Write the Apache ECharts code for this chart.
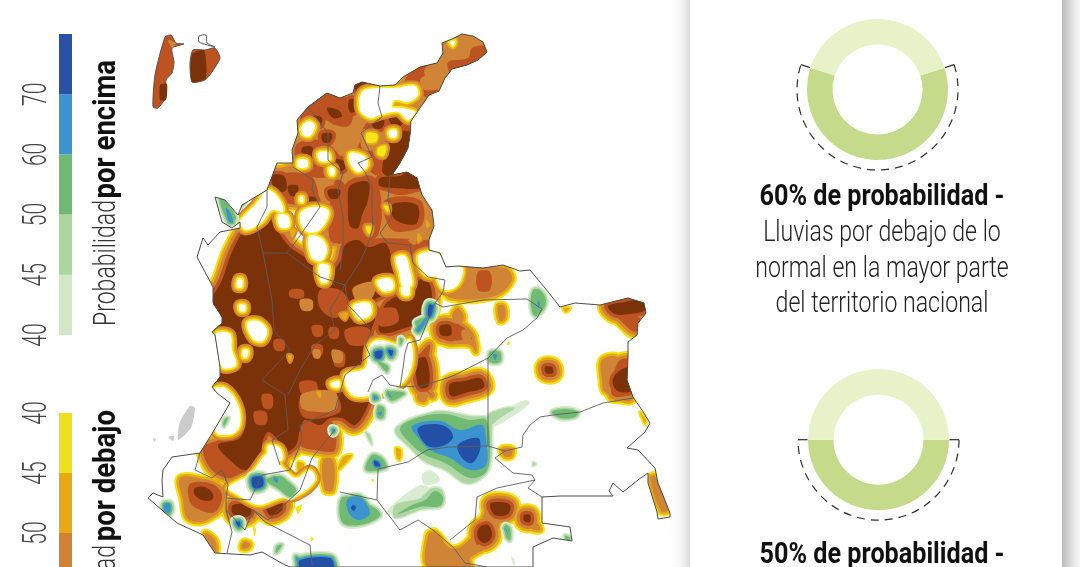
<!DOCTYPE html>
<html>
<head>
<meta charset="utf-8">
<title>Probabilidad de lluvias</title>
<script src="https://cdn.jsdelivr.net/npm/echarts@6/dist/echarts.min.js"></script>
<style>
html,body{margin:0;padding:0;background:#fff;}
#main{width:1080px;height:567px;}
</style>
</head>
<body>
<div id="main"></div>
<script>
// leyendas
var ticksEncima = ['40','45','50','60','70'];
var ticksDebajo = ['40','45','50'];
var coloresEncima = ['#d2e6c8','#acd5a0','#6fba72','#3b93cf','#2752a6'];
var coloresDebajo = ['#f0e01c','#e7aa12','#d08136'];

// donas
var probDonas = [60,50];

// contorno del pais (unidades del mapa)
var contorno = [[442,43],[452,39],[462,34],[473,36],[483,42],[487,52],[478,60],[467,65],[452,69],[445,78],[439,91],[429,95],[420,108],[411,121],[410,135],[408,148],[400,163],[392,175],[407,172],[417,178],[422,195],[432,210],[434,226],[429,240],[429,250],[440,253],[446,267],[458,266],[483,268],[503,265],[520,271],[530,270],[545,288],[560,307],[575,303],[600,305],[628,298],[644,303],[646,313],[638,323],[637,335],[628,342],[628,357],[627,380],[633,397],[642,410],[650,423],[645,432],[627,448],[638,450],[655,468],[658,483],[670,513],[670,517],[658,519],[657,512],[648,483],[648,473],[638,480],[623,492],[613,483],[609,491],[613,496],[560,496],[542,497],[542,523],[570,527],[572,541],[553,538],[533,547],[533,567],[290,567],[285,565],[262,552],[250,555],[215,553],[203,535],[177,523],[148,498],[153,493],[163,497],[162,480],[163,470],[172,457],[200,453],[213,432],[230,403],[217,393],[212,387],[220,377],[220,367],[215,335],[212,332],[222,323],[222,317],[213,303],[213,287],[197,257],[203,238],[208,245],[220,232],[240,228],[240,222],[232,228],[222,222],[215,197],[225,200],[238,215],[242,205],[267,190],[277,163],[293,163],[292,150],[298,133],[297,120],[308,107],[327,93],[340,98],[353,93],[355,85],[362,82],[380,86],[395,85],[403,77],[420,67],[437,63],[443,53]];

// limites internos
var limites = [
  [[380,86],[378,103],[382,117],[361,133],[372,157],[358,163],[365,172],[372,187],[372,213],[373,227],[367,247],[360,262],[345,285]],
  [[390,175],[388,200],[392,217],[380,233],[387,243],[410,245],[413,263],[428,277],[445,280],[443,292],[435,303],[420,340],[408,343],[405,353],[403,368],[400,387],[390,385],[382,375],[373,380],[368,392]],
  [[435,303],[443,307],[483,300],[527,299],[542,309],[537,318],[523,330],[507,338],[488,358],[455,375],[447,378],[422,386],[400,387]],
  [[488,358],[488,446]],
  [[378,469],[408,462],[427,450],[450,447],[488,446],[505,451],[522,447],[523,435],[530,425],[540,417],[553,415],[580,412],[603,403],[633,398]],
  [[505,451],[495,458],[513,473],[532,475],[535,480],[528,488],[542,497]],
  [[535,480],[497,488],[477,497],[475,520],[450,540]],
  [[378,469],[377,500],[400,530],[418,520],[433,530],[453,547],[465,563],[487,567]],
  [[340,492],[377,500]],
  [[327,93],[308,107],[328,133],[328,160],[343,173],[338,190],[343,217],[343,247],[340,270]],
  [[267,190],[267,207],[257,227],[263,253],[287,253],[297,240],[320,207],[312,190],[313,180],[293,167]],
  [[263,253],[272,300],[274,330],[290,350],[262,380],[285,395],[288,430],[272,440],[280,465]],
  [[287,253],[320,277],[345,285],[330,310],[335,330],[315,345],[300,370],[288,395]],
  [[345,285],[348,305],[372,330],[365,345],[370,355],[345,375],[335,410],[300,425],[302,440],[290,470],[262,475],[250,500],[226,498],[226,510],[245,530],[253,510],[268,520],[300,490],[312,458],[335,430]],
  [[200,453],[195,470],[212,478],[222,470],[228,485],[226,498]],
  [[226,510],[232,532],[227,553]],
  [[253,510],[265,522],[300,540],[310,545],[312,565]]
];

// lluvias por debajo: zonas por nivel (3 = 50, 4 = 60, 5 = 70)
var seco5 = [
  [[232,252],[250,222],[267,216],[277,230],[290,247],[317,266],[322,280],[340,262],[345,245],[358,240],[368,247],[385,243],[392,258],[398,272],[392,290],[372,302],[377,312],[370,335],[372,360],[372,385],[368,405],[355,425],[342,418],[330,418],[320,425],[305,420],[300,430],[296,445],[285,452],[278,440],[268,432],[262,445],[262,462],[245,470],[232,462],[218,445],[240,438],[245,420],[240,400],[218,382],[212,372],[212,330],[212,300],[222,280]],
  [[385,305],[405,292],[425,278],[432,295],[425,318],[405,328],[380,332]],
  [[393,135],[410,132],[408,148],[398,170],[388,176],[382,170]],
  [[380,178],[400,176],[408,172],[418,180],[420,188],[395,188],[380,186]],
  [[393,204],[417,205],[417,223],[405,224],[393,217]],
  [[350,186],[368,182],[368,200],[362,215],[358,228],[350,226],[348,205]],
  [[392,111],[402,113],[404,122],[396,127],[389,120]],
  [[372,121],[384,120],[382,128],[374,128]],
  [[349,100],[357,100],[358,110],[350,112]],
  [[354,85],[365,82],[370,88],[358,92]],
  [[327,108],[338,110],[342,116],[333,118]],
  [[314,116],[322,118],[320,126],[315,124]],
  [[322,134],[332,134],[330,142],[323,142]],
  [[302,148],[312,147],[314,158],[304,158]],
  [[333,160],[345,161],[344,170],[335,170]],
  [[272,176],[284,176],[286,190],[276,192]],
  [[288,186],[298,186],[296,196],[290,195]],
  [[306,198],[316,198],[316,210],[308,210]],
  [[328,190],[340,190],[338,198],[330,198]],
  [[195,488],[205,487],[213,494],[212,500],[202,500],[194,494]],
  [[233,505],[250,505],[250,515],[238,518],[232,512]],
  [[265,500],[280,498],[282,510],[270,515]],
  [[440,326],[450,325],[451,335],[441,335]],
  [[416,360],[426,358],[429,385],[420,388],[416,375]],
  [[450,384],[465,381],[480,378],[484,387],[465,393],[451,396]],
  [[545,367],[552,367],[553,373],[546,373]],
  [[615,375],[628,368],[632,390],[620,392],[613,385]],
  [[608,306],[625,302],[640,300],[645,310],[630,314],[615,314]],
  [[490,504],[500,502],[510,505],[508,514],[495,515]],
  [[479,528],[488,525],[492,536],[485,543],[478,538]],
  [[524,515],[530,515],[530,522],[524,521]]
];
var seco4 = [
  [[448,62],[468,58],[472,48],[486,46],[492,54],[478,66],[452,74]],
  [[405,80],[420,66],[436,60],[430,72],[420,80],[425,90],[438,90],[430,98],[415,90]],
  [[300,130],[303,112],[330,92],[352,98],[362,82],[375,86],[358,96],[350,125],[335,125],[322,118],[308,118]],
  [[365,125],[385,112],[405,115],[410,135],[395,128],[375,130],[372,150],[385,165],[375,175],[358,150]],
  [[296,145],[320,140],[335,150],[345,170],[320,178],[300,170]],
  [[378,175],[415,178],[418,190],[400,195],[385,190]],
  [[345,185],[375,178],[378,235],[345,240]],
  [[385,200],[420,200],[422,225],[398,232],[388,225]],
  [[270,178],[310,175],[318,205],[300,205],[280,200]],
  [[335,180],[345,185],[350,240],[330,240]],
  [[345,245],[430,240],[432,250],[400,272],[345,280]],
  [[478,272],[490,272],[490,290],[478,290]],
  [[440,322],[460,325],[472,338],[462,340],[445,340]],
  [[205,445],[262,440],[268,468],[240,475],[225,478],[208,465]],
  [[190,484],[212,484],[222,495],[215,512],[200,510],[190,502]],
  [[298,425],[330,420],[335,450],[315,450],[300,445]],
  [[640,318],[612,312],[620,320],[635,332]],
  [[618,362],[630,360],[632,392],[612,395]],
  [[432,395],[422,385],[430,345],[414,362],[410,372]],
  [[488,525],[492,518],[478,545],[475,535]]
];
var seco3 = [
  [[442,40],[462,30],[480,34],[492,50],[478,64],[452,74],[442,92],[428,100],[415,112],[405,100],[396,90],[420,62],[436,58]],
  [[295,140],[300,112],[328,88],[352,92],[362,78],[382,84],[400,84],[420,110],[412,132],[408,155],[392,178],[360,185],[340,180],[310,170],[295,165]],
  [[262,182],[292,165],[340,175],[340,240],[322,245],[300,210],[270,190]],
  [[340,175],[392,172],[417,176],[425,195],[436,212],[438,240],[430,252],[395,250],[345,250]],
  [[452,270],[505,268],[512,280],[495,296],[450,298],[445,285]],
  [[180,478],[205,480],[225,490],[222,505],[215,515],[200,522],[187,518],[183,500]],
  [[205,533],[215,540],[216,552],[208,545]],
  [[255,498],[285,495],[290,508],[270,520],[255,512]],
  [[323,460],[333,460],[333,490],[325,490]],
  [[458,308],[464,318],[458,325],[452,316]],
  [[443,322],[465,326],[475,340],[476,352],[470,345],[445,342]],
  [[602,360],[618,358],[632,400],[605,392],[602,380]],
  [[606,306],[640,302],[640,335],[620,322]],
  [[650,478],[655,476],[668,510],[661,511]],
  [[428,535],[435,532],[450,548],[462,546],[478,528],[490,500],[500,520],[490,545],[470,558],[470,567],[428,567]],
  [[525,520],[538,524],[540,530],[530,528]],
  [[498,306],[504,306],[505,318],[500,321]],
  [[502,449],[512,449],[511,456],[504,456]],
  [[244,542],[250,544],[248,548],[242,548]],
  [[418,392],[428,392],[425,402],[418,400]]
];
var seco2 = [
  [[343,457],[352,455],[347,462],[338,470]],
  [[396,448],[401,450],[400,460],[397,458]],
  [[284,458],[290,460],[288,468]],
  [[298,462],[304,464],[302,474],[298,472]],
  [[563,308],[570,308],[566,312]],
  [[640,412],[646,420],[645,424]],
  [[610,397],[630,396],[634,402]]
];
var seco1 = [
  [[296,508],[302,505],[298,514]],
  [[253,522],[256,530],[254,536]],
  [[311,537],[314,539],[311,541]],
  [[508,341],[510,344],[507,345]],
  [[372,479],[374,480],[372,482]]
];

// islas claras dentro de la zona seca: 0 blanco, 1 amarillo, 2 ambar, 3 naranja, 4 medio
var claro4 = [
  [[290,290],[303,290],[303,298],[290,297]],[[312,326],[322,326],[322,336],[314,336]],[[329,328],[338,328],[338,338],[330,338]],
  [[333,352],[344,352],[344,366],[335,366]],[[312,345],[322,345],[322,355],[313,355]],[[262,395],[272,395],[272,408],[264,408]],
  [[254,412],[266,412],[266,424],[256,424]],[[300,382],[316,382],[316,394],[302,394]],[[274,340],[284,340],[284,350],[275,350]],
  [[320,290],[340,290],[350,306],[335,318],[320,308]],[[345,330],[368,328],[372,342],[350,345]],[[375,312],[395,308],[398,322],[380,326]],
  [[300,400],[335,395],[340,412],[305,418]]
];
var claro3 = [
  [[302,394],[335,392],[336,410],[318,412],[302,408]],[[353,288],[375,282],[372,298],[358,302]],[[313,350],[320,350],[320,358],[314,358]],
  [[332,350],[342,352],[342,362],[334,362]],[[300,300],[312,300],[312,310],[302,310]],[[362,130],[375,132],[372,150],[362,148]],
  [[345,128],[360,128],[358,146],[345,145]],[[440,42],[466,38],[462,52],[446,60]],[[425,68],[442,62],[436,80],[428,82]],
  [[416,232],[428,225],[428,238],[418,240]],[[462,330],[472,332],[470,340],[463,340]],[[408,240],[416,238],[415,245]]
];
var claro2 = [
  [[418,233],[422,238],[418,242]],[[426,220],[430,225],[427,228]],[[316,392],[321,392],[320,398]],[[340,314],[348,313],[345,320]],
  [[290,228],[296,230],[292,238]],[[288,355],[292,356],[290,362]]
];
var claro1 = [
  [[367,133],[377,134],[376,142],[367,142]],[[378,148],[386,146],[384,156],[378,155]],[[384,206],[388,206],[388,212]],[[366,227],[371,227],[369,234]]
];
var claro0 = [
  [[301,128],[309,121],[315,126],[310,136],[303,135]],
  [[318,153],[328,152],[330,160],[320,161]],
  [[298,160],[307,160],[307,167],[298,167]],
  [[329,168],[334,168],[334,175],[330,175]],
  [[362,92],[378,88],[395,88],[415,86],[418,95],[408,102],[395,100],[392,107],[402,108],[415,112],[408,120],[398,112],[380,115],[370,118],[360,110]],
  [[389,131],[396,130],[396,137],[390,137]],
  [[350,153],[364,156],[368,165],[358,172],[350,163]],
  [[245,215],[255,205],[268,190],[280,200],[283,212],[272,210],[262,222],[246,230],[240,222]],
  [[278,215],[288,216],[289,227],[280,227]],
  [[300,197],[303,197],[303,202],[300,202]],
  [[300,214],[312,207],[328,210],[326,222],[316,232],[304,230]],
  [[309,236],[321,238],[327,250],[321,261],[311,257]],
  [[319,265],[329,266],[327,282],[321,282]],
  [[238,279],[242,279],[242,287],[237,287]],
  [[239,305],[245,305],[245,311],[240,311]],
  [[247,323],[258,321],[267,330],[263,341],[253,339]],
  [[243,350],[248,350],[247,357],[243,357]],
  [[216,334],[230,334],[232,350],[236,365],[222,367]],
  [[214,390],[225,388],[238,405],[240,425],[232,434],[216,432]],
  [[331,383],[339,381],[339,387],[333,387]],
  [[396,258],[405,256],[410,270],[412,285],[403,287],[399,272]],
  [[377,281],[391,279],[393,289],[383,291]],
  [[418,256],[435,252],[446,265],[440,275],[425,275]],
  [[438,270],[462,268],[458,285],[445,290],[438,282]],
  [[353,306],[369,303],[371,314],[359,319]],
  [[380,340],[400,345],[410,340],[412,365],[400,385],[375,395],[352,395],[345,375],[365,368],[370,345]],
  [[401,288],[409,286],[409,295],[403,295]],
  [[250,475],[270,452],[283,468],[296,478],[310,470],[315,480],[298,495],[280,498],[258,505],[238,495],[228,488],[240,480]],
  [[268,446],[280,448],[282,460],[270,460]],
  [[450,42],[455,41],[453,46]]
];

// lluvias por encima: 1 = 40, 2 = 45, 3 = 50, 4 = 60, 5 = 70
var humedo5 = [
  [[418,428],[435,424],[448,428],[453,437],[445,445],[430,447],[422,440]],
  [[458,445],[478,438],[480,450],[472,463],[462,458]],
  [[353,505],[356,507],[354,511],[351,508]],
  [[252,478],[262,477],[263,486],[254,488]],
  [[236,522],[240,522],[239,527]],
  [[374,461],[378,462],[380,466],[375,466]],
  [[429,305],[433,306],[431,316],[428,316]],
  [[375,352],[382,351],[381,358],[376,358]],
  [[388,350],[393,351],[391,356]],
  [[300,560],[330,558],[333,567],[300,567]]
];
var humedo4 = [
  [[412,426],[440,421],[460,430],[482,425],[486,440],[486,465],[470,470],[450,458],[430,450],[420,440]],
  [[347,500],[360,497],[370,513],[360,520],[350,515]],
  [[164,504],[170,504],[170,512],[165,512]],
  [[273,478],[278,478],[277,483]],[[374,395],[378,398],[374,400]],
  [[392,398],[388,395],[388,392]],[[378,413],[382,412],[380,416]],
  [[422,322],[428,316],[426,322],[419,332],[416,330]],
  [[538,300],[540,304],[538,308]],[[493,354],[497,355],[495,360]],
  [[505,528],[507,530],[508,534]],[[332,429],[335,430],[333,433]],
  [[296,557],[300,560],[298,565]],[[226,208],[230,212],[233,222],[229,222]]
];
var humedo3 = [
  [[400,428],[420,417],[445,414],[470,420],[486,420],[490,450],[486,472],[470,478],[445,463],[425,455],[412,445]],
  [[425,500],[435,491],[443,497],[440,506],[420,507],[398,514],[412,505]],
  [[343,497],[375,508],[380,516],[360,525],[342,522]],
  [[372,455],[382,458],[386,468],[366,470]],
  [[378,406],[384,408],[383,418],[377,417]],
  [[387,392],[405,393],[395,400],[390,400]],
  [[533,290],[540,290],[546,300],[543,310],[535,316],[531,305]],
  [[490,352],[500,352],[500,362],[490,362]],
  [[552,412],[565,409],[578,412],[575,417],[560,418]],
  [[505,525],[510,528],[510,540],[506,537]],
  [[266,480],[280,476],[290,483],[296,490],[290,497],[280,490]],
  [[277,546],[282,545],[276,553]],
  [[165,503],[172,506],[170,515],[164,513]],
  [[219,197],[226,202],[236,218],[228,222]],
  [[241,202],[245,202],[242,206]],
  [[565,536],[570,538],[568,542]],[[224,420],[228,418],[224,426]],
  [[415,322],[425,318],[420,330]],[[385,352],[378,350],[380,360]],
  [[378,362],[388,366],[387,372]],[[400,338],[403,340],[400,345]]
];
var humedo2 = [
  [[395,505],[420,498],[432,488],[442,490],[443,505],[420,510],[395,518]],
  [[488,415],[505,408],[515,408],[500,418],[490,425]],
  [[533,462],[536,464],[533,466]],
  [[365,432],[370,435],[372,445]],
  [[395,430],[415,418],[440,411],[470,416],[490,418],[492,430],[488,470],[468,484],[445,470],[425,462],[410,448]]
];
var humedo1 = [
  [[488,420],[505,410],[525,400],[530,403],[510,418],[490,428]],
  [[430,470],[440,480],[425,485],[422,475]],
  [[420,485],[430,490],[390,515],[385,512]],
  [[511,557],[515,560],[514,566]]
];

var islaGris = [[180,422],[190,406],[195,408],[191,428],[178,440]];
var islaGris2 = [[168,437],[174,436],[173,441]];
var islaGris3 = [[153,439],[156,438],[155,442]];
var islaSur = [[153,107],[155,75],[165,37],[171,35],[176,43],[184,44],[172,48],[174,62],[172,73],[166,80],[166,97],[158,108]];
var islaNorte = [[190,63],[193,50],[205,50],[215,48],[220,58],[212,72],[205,80],[192,82]];
var islaNorteCola = [[199,36],[206,35],[207,43],[215,47],[199,42]];

var chart = echarts.init(document.getElementById('main'));

var letra = 'Roboto,"Liberation Sans",sans-serif';
var nivelSeco = [null,'#f2e31b','#e7aa12','#d08436','#bc5320','#7c3208'];
var radioSeco = [0,11,9,6.5,3.5,0];   // borde exterior de cada nivel
var nivelHumedo = [null,'#d9ecd2','#aed6a3','#70ba74','#3b93cf','#2350a6'];
var colorClaro = ['#ffffff','#f5e61c','#e7aa12','#d08436','#bc5320'];
var radioClaro = [0,1.8,3.6,5.5,0];

function todos(listas, desde){
  var r = [];
  for(var i=desde;i<listas.length;i++){
    listas[i].forEach(function(p){ r.push({pts:p,nivel:i}); });
  }
  return r;
}

function dibujaMapa(params, api){
  function pts(p){ return p.map(function(q){ return api.coord(q); }); }
  function poli(p, color, ancho, suave){
    return {
      type:'polygon',
      shape:{points:pts(p), smooth:suave===undefined?0.35:suave},
      style:{fill:color, stroke:ancho>0?color:null, lineWidth:ancho, lineJoin:'round'}
    };
  }
  var hijos = [];
  // secas: de afuera hacia adentro
  var secas = [null,seco1,seco2,seco3,seco4,seco5];
  for(var n=1;n<=5;n++){
    todos(secas,n).forEach(function(z){
      hijos.push(poli(z.pts,nivelSeco[n],2*(radioSeco[n]-radioSeco[z.nivel])));
    });
  }
  // islas claras
  var claras = [claro0,claro1,claro2,claro3];
  claro4.forEach(function(p){ hijos.push(poli(p,colorClaro[4],0)); });
  for(var c=3;c>=0;c--){
    todos(claras,0).forEach(function(z){
      if(z.nivel<=c){
        hijos.push(poli(z.pts,colorClaro[c],2*(radioClaro[c]-radioClaro[z.nivel])));
      }
    });
  }
  // humedas
  var humedas = [null,humedo1,humedo2,humedo3,humedo4,humedo5];
  for(var h=1;h<=5;h++){
    todos(humedas,h).forEach(function(z){
      hijos.push(poli(z.pts,nivelHumedo[h],2*(z.nivel-h)*1.6));
    });
  }
  return {type:'group',children:hijos,clipPath:{type:'polygon',shape:{points:pts(contorno)}}};
}

function dibujaLineas(params, api){
  var hijos = limites.map(function(l){
    return {type:'polyline',shape:{points:l.map(function(q){return api.coord(q);})},style:{fill:null,stroke:'#5c5c5c',lineWidth:0.9}};
  });
  hijos.push({type:'polygon',shape:{points:contorno.map(function(q){return api.coord(q);})},style:{fill:null,stroke:'#4a4a4a',lineWidth:1}});
  return {type:'group',children:hijos};
}

function dibujaIslas(params, api){
  function f(p,color,linea){
    return {type:'polygon',shape:{points:p.map(function(q){return api.coord(q);}),smooth:0.2},style:{fill:color,stroke:linea,lineWidth:linea?1:0}};
  }
  return {type:'group',children:[
    f(islaSur,'#bc5320','#555'),
    f(islaNorteCola,'#fff','#555'),
    f(islaNorte,'#bc5320','#555'),
    f([[192,54],[204,50],[206,78],[192,82]],'#7c3208',null),
    f([[160,85],[167,84],[166,100],[160,100]],'#7c3208',null),
    f([[168,40],[176,43],[172,48]],'#d08436',null),
    f(islaGris,'#cbcbcb',null),
    f(islaGris2,'#cbcbcb',null),
    f(islaGris3,'#cbcbcb',null)
  ]};
}

function dibujaArco(params, api){
  var c = api.coord([api.value(0),api.value(1)]);
  var p = api.value(2);
  var r = 80.5;
  var med = (p/100)*Math.PI;   // media abertura alrededor de la parte baja
  var ini = Math.PI/2-med, fin = Math.PI/2+med;
  var finx = Math.cos(ini), finy = Math.sin(ini);
  return {type:'group',children:[
    {type:'arc',shape:{cx:c[0],cy:c[1],r:r,startAngle:ini,endAngle:fin,clockwise:true},
     style:{fill:null,stroke:'#2e2e2e',lineWidth:1.2,lineDash:[8,6]}},
    {type:'line',shape:{x1:c[0]+r*finx,y1:c[1]+r*finy,x2:c[0]+71*finx,y2:c[1]+71*finy},style:{stroke:'#2e2e2e',lineWidth:1.2}},
    {type:'line',shape:{x1:c[0]-r*finx,y1:c[1]+r*finy,x2:c[0]-71*finx,y2:c[1]+71*finy},style:{stroke:'#2e2e2e',lineWidth:1.2}}
  ]};
}

function barras(colores, eje){
  return colores.map(function(col){
    return {type:'bar',xAxisIndex:eje,yAxisIndex:eje,stack:'l'+eje,data:[1],barWidth:'100%',
      itemStyle:{color:col},silent:true};
  });
}

// numeros de la leyenda: texto alto y estrecho como en el original
function serieTicks(ticks, eje){
  return {type:'custom',xAxisIndex:eje,yAxisIndex:eje,coordinateSystem:'cartesian2d',clip:false,silent:true,
    data:ticks.map(function(t,i){ return [0,i]; }),
    renderItem:function(params, api){
      var c = api.coord([0,api.value(1)]);
      return {type:'text',x:c[0]-28,y:c[1],rotation:Math.PI/2,scaleX:0.62,
        style:{text:ticks[params.dataIndex],fontFamily:letra,fontWeight:300,fontSize:34,fill:'#444',align:'center',verticalAlign:'middle'}};
    }};
}

function dona(cx,cy,p){
  return {type:'pie',center:[cx,cy],radius:[45,70.5],startAngle:(p-50)*1.8,silent:true,label:{show:false},labelLine:{show:false},
    data:[{value:p,itemStyle:{color:'#c5da8a'}},{value:100-p,itemStyle:{color:'#e9f1c9'}}]};
}

function ejeLeyenda(indice, inverso, maximo){
  return {type:'value',gridIndex:indice,min:0,max:maximo,interval:1,inverse:inverso,show:false};
}

function textoPanel(texto, y, negrita){
  return {type:'text',x:882,y:y,scaleX:negrita?0.84:0.77,
    style:{text:texto,fontFamily:letra,fontSize:30,fontWeight:negrita?'bold':300,fill:negrita?'#111':'#222',align:'center',verticalAlign:'middle'}};
}

// titulo girado: dos piezas porque cada una lleva su propio estrechado
function tituloLeyenda(texto, yNegrita, yNormal){
  return [
    {type:'text',x:107,y:yNegrita,rotation:Math.PI/2,scaleX:0.86,z:10,
      style:{text:texto,fontFamily:letra,fontSize:32,fontWeight:'bold',fill:'#111',align:'right',verticalAlign:'middle'}},
    {type:'text',x:107,y:yNormal,rotation:Math.PI/2,scaleX:0.72,z:10,
      style:{text:'Probabilidad',fontFamily:letra,fontSize:32,fontWeight:300,fill:'#333',align:'right',verticalAlign:'middle'}}
  ];
}

var option = {
  animation:false,
  backgroundColor:'#ffffff',
  graphic:[
    {type:'rect',z:-1,shape:{x:690,y:-30,width:372,height:640},
      style:{fill:'#fff',shadowBlur:20,shadowColor:'rgba(0,0,0,0.42)',shadowOffsetX:4}},
    textoPanel('60% de probabilidad -',197,true),
    textoPanel('Lluvias por debajo de lo',233,false),
    textoPanel('normal en la mayor parte',269,false),
    textoPanel('del territorio nacional',304,false),
    textoPanel('50% de probabilidad -',555,true)
  ].concat(tituloLeyenda('por encima',60,200)).concat(tituloLeyenda('por debajo',410,545)),
  grid:[
    {left:0,top:0,width:1080,height:567},
    {left:59,top:34,width:13,height:301},
    {left:59,top:413,width:13,height:154}
  ],
  xAxis:[
    {type:'value',gridIndex:0,min:0,max:1080,show:false},
    {type:'category',gridIndex:1,data:['a'],show:false},
    {type:'category',gridIndex:2,data:['a'],show:false}
  ],
  yAxis:[
    {type:'value',gridIndex:0,min:0,max:567,inverse:true,show:false},
    ejeLeyenda(1,false,5),
    ejeLeyenda(2,true,2.5667)
  ],
  series:[
    {type:'custom',xAxisIndex:0,yAxisIndex:0,coordinateSystem:'cartesian2d',data:[[0,0]],renderItem:dibujaMapa,clip:false,silent:true,z:2},
    {type:'custom',xAxisIndex:0,yAxisIndex:0,coordinateSystem:'cartesian2d',data:[[0,0]],renderItem:dibujaLineas,clip:true,silent:true,z:3},
    {type:'custom',xAxisIndex:0,yAxisIndex:0,coordinateSystem:'cartesian2d',data:[[0,0]],renderItem:dibujaIslas,clip:false,silent:true,z:3},
    {type:'custom',xAxisIndex:0,yAxisIndex:0,coordinateSystem:'cartesian2d',data:[[877.5,89.5,probDonas[0]],[878.5,439.7,probDonas[1]]],renderItem:dibujaArco,clip:false,silent:true,z:3},
    dona(877.5,89.5,probDonas[0]),
    dona(878.5,439.7,probDonas[1]),
    serieTicks(ticksEncima,1),
    serieTicks(ticksDebajo,2)
  ].concat(barras(coloresEncima,1)).concat(barras(coloresDebajo,2))
};
chart.setOption(option);
</script>
</body>
</html>
